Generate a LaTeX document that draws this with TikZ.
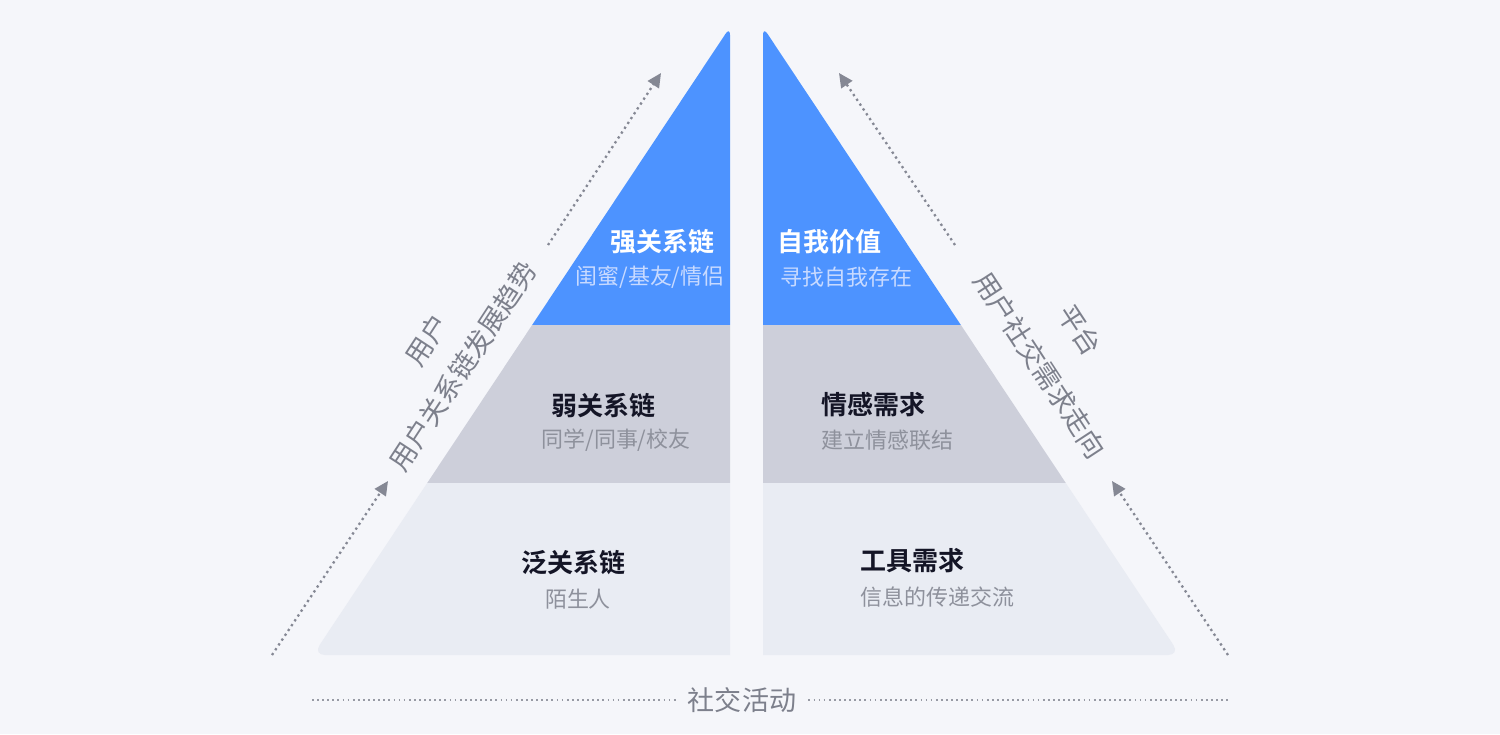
\documentclass[tikz,border=0pt]{standalone}
\usepackage{fontspec}
\setmainfont{Noto Sans CJK SC}[BoldFont={Noto Sans CJK SC Bold}]
\usetikzlibrary{arrows.meta}

\definecolor{bgGray}{HTML}{F5F6FA}
\definecolor{pyrBlue}{HTML}{4D93FF}
\definecolor{pyrMid}{HTML}{CDCFDA}
\definecolor{pyrLow}{HTML}{E9ECF3}
\definecolor{arrowGray}{HTML}{858894}
\definecolor{textDark}{HTML}{141526}
\definecolor{textSub}{HTML}{8E919C}
\definecolor{subBlue}{HTML}{C8DAFF}
\definecolor{labelGray}{HTML}{7D808C}

\begin{document}
\begin{tikzpicture}[
    x=0.02cm, y=-0.02cm,
    >={Triangle[length=8pt,width=7.5pt]},
    every node/.style={inner sep=0pt},
    tiertitle/.style={font=\fontsize{14.8}{16}\selectfont\bfseries, text=textDark},
    tiersub/.style={font=\fontsize{12.5}{14}\selectfont, text=textSub},
    sidelabel/.style={font=\fontsize{15.4}{17}\selectfont, text=labelGray},
    trendarrow/.style={->, arrowGray, line width=1.3pt, dash pattern=on 1.3pt off 2pt},
    basedots/.style={arrowGray!85, line width=1pt, dash pattern=on 1pt off 1.9pt},
]

% background / bounding box
\fill[bgGray] (0,0) rectangle (1500,734);
\useasboundingbox (0,0) rectangle (1500,734);

% half pyramid outline (apex and outer base corner rounded)
\def\halfpath{(730,655) -- (325,655) .. controls (318.4,655) and (316,650.5) .. (319.6,645)
    -- (725.6,33.7) .. controls (728,30) and (730,30.6) .. (730,35) -- cycle}

% ============================================================
% PYRAMID HALVES
% ============================================================
\foreach \shx/\sx in {0/1, 1493/-1} {
    \begin{scope}[shift={(\shx,0)}, xscale=\sx]
        \begin{scope}
            \clip \halfpath;
            \fill[pyrBlue] (300,0) rectangle (740,325);
            \fill[pyrMid] (300,325) rectangle (740,483);
            \fill[pyrLow] (300,483) rectangle (740,660);
        \end{scope}
    \end{scope}
}

% ============================================================
% TIER LABELS
% ============================================================
\node[tiertitle, text=white] (strongT) at (662,242) {强关系链};
\node[tiersub, text=subBlue] (strongS) at (650,277) {闺蜜/基友/情侣};
\node[tiertitle] (weakT) at (603,406) {弱关系链};
\node[tiersub] (weakS) at (616,440) {同学/同事/校友};
\node[tiertitle] (wideT) at (573,563) {泛关系链};
\node[tiersub] (wideS) at (578,599) {陌生人};

\node[tiertitle, text=white, anchor=west] (selfT) at (777,242) {自我价值};
\node[tiersub, text=subBlue, anchor=west] (selfS) at (780,277) {寻找自我存在};
\node[tiertitle, anchor=west] (emoT) at (821,405) {情感需求};
\node[tiersub, anchor=west] (emoS) at (821,440) {建立情感联结};
\node[tiertitle, anchor=west] (toolT) at (860,561) {工具需求};
\node[tiersub, anchor=west] (toolS) at (860,597) {信息的传递交流};

% ============================================================
% TREND ARROWS
% ============================================================
\coordinate (lowLs) at (272,655);  \coordinate (lowLe) at (388,481);
\coordinate (topLs) at (548,245);  \coordinate (topLe) at (661,73);
\coordinate (lowRs) at (1228,655); \coordinate (lowRe) at (1112,481);
\coordinate (topRs) at (955,245);  \coordinate (topRe) at (839,73);

\foreach \s/\e in {lowLs/lowLe, topLs/topLe, lowRs/lowRe, topRs/topRe}
    \draw[trendarrow] (\s) -- (\e);

\node[sidelabel, rotate=56.8] (userL) at (427,340) {用户};
\node[sidelabel, rotate=56.8] (trendL) at (463,366) {用户关系链发展趋势};
\node[sidelabel, rotate=-56.8] (platL) at (1080,330) {平台};
\node[sidelabel, rotate=-56.8] (needL) at (1040,365) {用户社交需求走向};

% ============================================================
% BASELINE
% ============================================================
\node[sidelabel, inner xsep=6.8pt] (actL) at (742,700) {社交活动};
\coordinate (baseL) at (312,700);
\coordinate (baseR) at (1228,700);
\draw[basedots] (baseL) -- (actL);
\draw[basedots] (actL) -- (baseR);

\end{tikzpicture}
\end{document}
